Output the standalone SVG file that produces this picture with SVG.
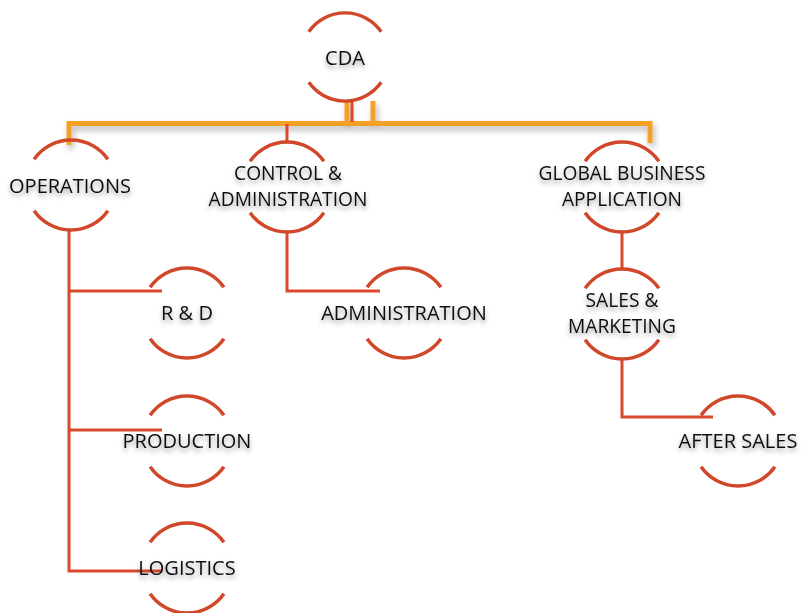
<svg xmlns="http://www.w3.org/2000/svg" xmlns:xlink="http://www.w3.org/1999/xlink" width="803" height="613" viewBox="0 0 803 613">
<defs>
<filter id="tsh" x="-20%" y="-50%" width="140%" height="220%">
<feDropShadow dx="0" dy="3" stdDeviation="2.5" flood-color="#000" flood-opacity="0.4"/>
</filter>
<filter id="lsh" x="-5%" y="-50%" width="110%" height="300%">
<feDropShadow dx="2" dy="4" stdDeviation="3" flood-color="#000" flood-opacity="0.3"/>
</filter>
<path id="ring" d="M-36.9 -25.8 A45 45 0 0 1 36.9 -25.8 M-36.9 25.8 A45 45 0 0 0 36.9 25.8"/>
</defs>
<style>
.ring{fill:none;stroke:#D1472A;stroke-width:3.5}
.lbl{font-family:"Open Sans","Noto Sans","Liberation Sans",sans-serif;font-size:20px;fill:#111;text-anchor:middle;filter:url(#tsh)}
.two{font-size:19.2px}
.red{fill:none;stroke:#D84A2B;stroke-width:3}
.org{fill:none;stroke:#F6A128;stroke-width:5;filter:url(#lsh)}
</style>
<rect width="803" height="613" fill="#fff"/>
<g id="connectors">
<path class="org" d="M69 145 V123.5 H650 V143 M347 101 V123.5 M373 101 V123.5"/>
<path class="red" d="M352 102 V122 M287 124 V143"/>
<path class="red" d="M69 230 V571 H162 M69 291 H162 M69 430 H162"/>
<path class="red" d="M287 232 V291 H380"/>
<path class="red" d="M622 232 V270 M622 359 V417 H713"/>
</g>
<g id="n-cda"><use href="#ring" class="ring" transform="translate(345,57) scale(0.98)"/><text class="lbl" x="345" y="65">CDA</text></g>
<g id="n-operations"><use href="#ring" class="ring" transform="translate(71,185)"/><text class="lbl" x="70" y="193">OPERATIONS</text></g>
<g id="n-control"><use href="#ring" class="ring" transform="translate(287,187)"/><text class="lbl two"><tspan x="288" y="179.5">CONTROL &amp;</tspan><tspan x="288" y="205.5">ADMINISTRATION</tspan></text></g>
<g id="n-global"><use href="#ring" class="ring" transform="translate(622,187)"/><text class="lbl two"><tspan x="622" y="179.5">GLOBAL BUSINESS</tspan><tspan x="622" y="205.5">APPLICATION</tspan></text></g>
<g id="n-rd"><use href="#ring" class="ring" transform="translate(187,313)"/><text class="lbl" x="187" y="320">R &amp; D</text></g>
<g id="n-administration"><use href="#ring" class="ring" transform="translate(404,313)"/><text class="lbl" x="404" y="320">ADMINISTRATION</text></g>
<g id="n-sales"><use href="#ring" class="ring" transform="translate(622,314)"/><text class="lbl two"><tspan x="622" y="306.5">SALES &amp;</tspan><tspan x="622" y="332.5">MARKETING</tspan></text></g>
<g id="n-production"><use href="#ring" class="ring" transform="translate(187,441)"/><text class="lbl" x="187" y="448">PRODUCTION</text></g>
<g id="n-aftersales"><use href="#ring" class="ring" transform="translate(738,441)"/><text class="lbl" x="738" y="448">AFTER SALES</text></g>
<g id="n-logistics"><use href="#ring" class="ring" transform="translate(187,568)"/><text class="lbl" x="187" y="575">LOGISTICS</text></g>
</svg>
